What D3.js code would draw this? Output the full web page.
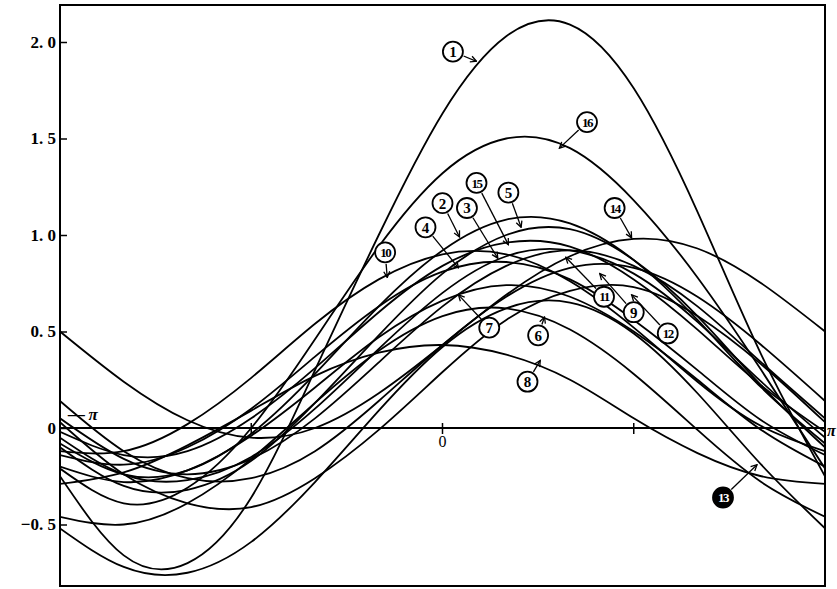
<!DOCTYPE html>
<html>
<head>
<meta charset="utf-8">
<script src="https://cdn.jsdelivr.net/npm/d3@7"></script>
<style>
  body { margin: 0; background: #fff; }
</style>
</head>
<body>
<div id="chart"></div>
<script>
// angle in degrees, -pi .. pi
const thetaDeg = [-180, -150, -120, -90, -60, -30, 0, 30, 60, 90, 120, 150, 180];

// values, one array per numbered curve
const curve1  = [-0.25, -0.66, -0.70, -0.36, 0.30, 1.00, 1.63, 2.03, 2.09, 1.76, 1.12, 0.38, -0.25];
const curve2  = [-0.08, -0.24, -0.22, -0.03, 0.28, 0.63, 0.92, 1.08, 1.06, 0.87, 0.56, 0.21, -0.08];
const curve3  = [-0.05, -0.24, -0.27, -0.15, 0.10, 0.41, 0.70, 0.89, 0.92, 0.80, 0.55, 0.24, -0.05];
const curve4  = [-0.14, -0.19, -0.10, 0.10, 0.37, 0.63, 0.81, 0.86, 0.77, 0.56, 0.30, 0.04, -0.14];
const curve5  = [-0.10, -0.30, -0.32, -0.17, 0.13, 0.48, 0.80, 1.00, 1.03, 0.87, 0.58, 0.22, -0.10];
const curve6  = [-0.46, -0.50, -0.39, -0.16, 0.13, 0.40, 0.58, 0.62, 0.51, 0.28, -0.01, -0.28, -0.46];
const curve7  = [-0.20, -0.28, -0.22, -0.04, 0.21, 0.47, 0.66, 0.74, 0.68, 0.50, 0.25, -0.01, -0.20];
const curve8  = [-0.29, -0.23, -0.09, 0.09, 0.27, 0.39, 0.43, 0.38, 0.25, 0.05, -0.13, -0.25, -0.29];
const curve9  = [0.14, -0.12, -0.26, -0.26, -0.12, 0.14, 0.43, 0.68, 0.83, 0.83, 0.68, 0.43, 0.14];
const curve10 = [-0.12, -0.12, 0.02, 0.26, 0.54, 0.77, 0.90, 0.90, 0.76, 0.52, 0.24, 0.01, -0.12];
const curve11 = [0.05, -0.16, -0.24, -0.16, 0.05, 0.34, 0.63, 0.84, 0.92, 0.84, 0.63, 0.34, 0.05];
const curve12 = [0.03, -0.24, -0.39, -0.41, -0.26, -0.01, 0.29, 0.56, 0.71, 0.73, 0.58, 0.33, 0.03];
const curve13 = [-0.52, -0.72, -0.75, -0.59, -0.28, 0.09, 0.42, 0.62, 0.65, 0.49, 0.18, -0.19, -0.52];
const curve14 = [0.50, 0.24, 0.04, -0.05, 0.00, 0.18, 0.43, 0.69, 0.89, 0.98, 0.93, 0.75, 0.50];
const curve15 = [-0.02, -0.14, -0.12, 0.05, 0.31, 0.60, 0.84, 0.96, 0.94, 0.77, 0.51, 0.22, -0.02];
const curve16 = [-0.21, -0.39, -0.31, 0.00, 0.46, 0.94, 1.32, 1.50, 1.45, 1.18, 0.78, 0.30, -0.21];

const allCurves = [curve1, curve2, curve3, curve4, curve5, curve6, curve7, curve8,
                   curve9, curve10, curve11, curve12, curve13, curve14, curve15, curve16];

const yTicks = [-0.5, 0, 0.5, 1.0, 1.5, 2.0];
const xTicks = [-90, 0, 90];

// circled number labels: label centre and arrow tip, in data units [deg, value]
const labelIds = [1, 16, 2, 3, 4, 5, 15, 10, 7, 6, 8, 14, 11, 9, 12, 13];
const labelAt  = [[4.9, 1.95], [68, 1.585], [0, 1.165], [11.5, 1.14], [-8, 1.04], [31, 1.22],
                  [16, 1.27], [-27, 0.91], [22, 0.52], [45, 0.48], [40, 0.24], [81, 1.14],
                  [76, 0.68], [90, 0.60], [106, 0.49], [132, -0.36]];
const labelTip = [[16, 1.90], [55, 1.45], [8, 0.99], [26, 0.88], [7.5, 0.83], [37, 1.04],
                  [31, 0.95], [-26, 0.78], [7.5, 0.69], [48, 0.575], [46, 0.35], [89, 0.985],
                  [58, 0.885], [74, 0.80], [89, 0.69], [148, -0.19]];

const width = 837, height = 589;
const frameTop = 5, frameBottom = 586;

const svg = d3.select("#chart")
  .append("svg")
  .attr("width", width)
  .attr("height", height);

const x = d3.scaleLinear().domain([-180, 180]).range([60, 825]);
const y = d3.scaleLinear().domain([-0.5, 2.0]).range([524.5, 42]);

const defs = svg.append("defs");
defs.append("clipPath").attr("id", "plot")
  .append("rect")
  .attr("x", x(-180)).attr("y", frameTop)
  .attr("width", x(180) - x(-180)).attr("height", frameBottom - frameTop);

const marker = defs.append("marker")
  .attr("id", "arrow")
  .attr("viewBox", "-7 -4 8 8")
  .attr("refX", 0).attr("refY", 0)
  .attr("markerUnits", "userSpaceOnUse")
  .attr("markerWidth", 8).attr("markerHeight", 8)
  .attr("orient", "auto");
marker.append("path")
  .attr("d", "M-6,-3L0,0L-6,3")
  .attr("fill", "none")
  .attr("stroke", "#000")
  .attr("stroke-width", 1.3);

// zero line
svg.append("line")
  .attr("x1", x(-180)).attr("x2", x(180))
  .attr("y1", y(0)).attr("y2", y(0))
  .attr("stroke", "#000").attr("stroke-width", 2);

// small ticks on the zero line
svg.selectAll("line.xt")
  .data(xTicks)
  .enter()
  .append("line")
  .attr("class", "xt")
  .attr("x1", d => x(d)).attr("x2", d => x(d))
  .attr("y1", y(0) - 5).attr("y2", y(0) + 6)
  .attr("stroke", "#000").attr("stroke-width", 1.5);

// curves
const line = d3.line()
  .x((d, i) => x(thetaDeg[i]))
  .y(d => y(d))
  .curve(d3.curveNatural);

svg.append("g")
  .attr("clip-path", "url(#plot)")
  .selectAll("path")
  .data(allCurves)
  .enter()
  .append("path")
  .attr("fill", "none")
  .attr("stroke", "#000")
  .attr("stroke-width", 1.8)
  .attr("d", line);

// frame
svg.append("rect")
  .attr("x", x(-180)).attr("y", frameTop)
  .attr("width", x(180) - x(-180)).attr("height", frameBottom - frameTop)
  .attr("fill", "none")
  .attr("stroke", "#000")
  .attr("stroke-width", 2);

// y axis, ticks pointing inwards
const fmt = d => d === 0 ? "0" : (d < 0 ? "\u2212" : "") + Math.abs(d).toFixed(1).replace(".", ". ");
svg.append("g")
  .attr("transform", `translate(${x(-180)},0)`)
  .call(d3.axisLeft(y)
    .tickValues(yTicks)
    .tickSizeInner(-7)
    .tickSizeOuter(0)
    .tickPadding(4)
    .tickFormat(fmt))
  .call(g => g.select(".domain").remove())
  .call(g => g.selectAll("line").attr("stroke-width", 1.5))
  .call(g => g.selectAll("text")
    .attr("font-family", "Liberation Serif, DejaVu Serif, serif")
    .attr("font-weight", "bold")
    .attr("font-size", 17)
    .attr("fill", "#000"));

// angle labels
const serif = "Liberation Serif, DejaVu Serif, serif";
svg.append("text")
  .attr("x", x(-180) + 8).attr("y", y(0) - 8)
  .attr("font-family", serif).attr("font-style", "italic").attr("font-weight", "bold")
  .attr("font-size", 17)
  .text("\u2014\u2009\u03c0");
svg.append("text")
  .attr("x", x(0)).attr("y", y(0) + 19)
  .attr("text-anchor", "middle")
  .attr("font-family", serif).attr("font-size", 16)
  .text("0");
svg.append("text")
  .attr("x", x(180) + 2).attr("y", y(0) + 8)
  .attr("font-family", serif).attr("font-style", "italic").attr("font-weight", "bold")
  .attr("font-size", 16)
  .text("\u03c0");

// numbered labels with arrows
const r = 10;
const notes = svg.append("g");
labelIds.forEach((id, i) => {
  const cx = x(labelAt[i][0]), cy = y(labelAt[i][1]);
  const tx = x(labelTip[i][0]), ty = y(labelTip[i][1]);
  const len = Math.hypot(tx - cx, ty - cy);
  const sx = cx + (tx - cx) / len * (r + 1.5);
  const sy = cy + (ty - cy) / len * (r + 1.5);
  notes.append("line")
    .attr("x1", sx).attr("y1", sy)
    .attr("x2", tx).attr("y2", ty)
    .attr("stroke", "#000").attr("stroke-width", 1.3)
    .attr("marker-end", "url(#arrow)");
  notes.append("circle")
    .attr("cx", cx).attr("cy", cy).attr("r", r)
    .attr("fill", id === 13 ? "#000" : "#fff")
    .attr("stroke", "#000").attr("stroke-width", 1.8);
  notes.append("text")
    .attr("x", cx).attr("y", cy)
    .attr("dy", "0.36em")
    .attr("text-anchor", "middle")
    .attr("font-family", serif)
    .attr("font-weight", "bold")
    .attr("font-size", id > 9 ? 13 : 15)
    .attr("letter-spacing", id > 9 ? -1.5 : 0)
    .attr("fill", id === 13 ? "#fff" : "#000")
    .text(id);
});
</script>
</body>
</html>
